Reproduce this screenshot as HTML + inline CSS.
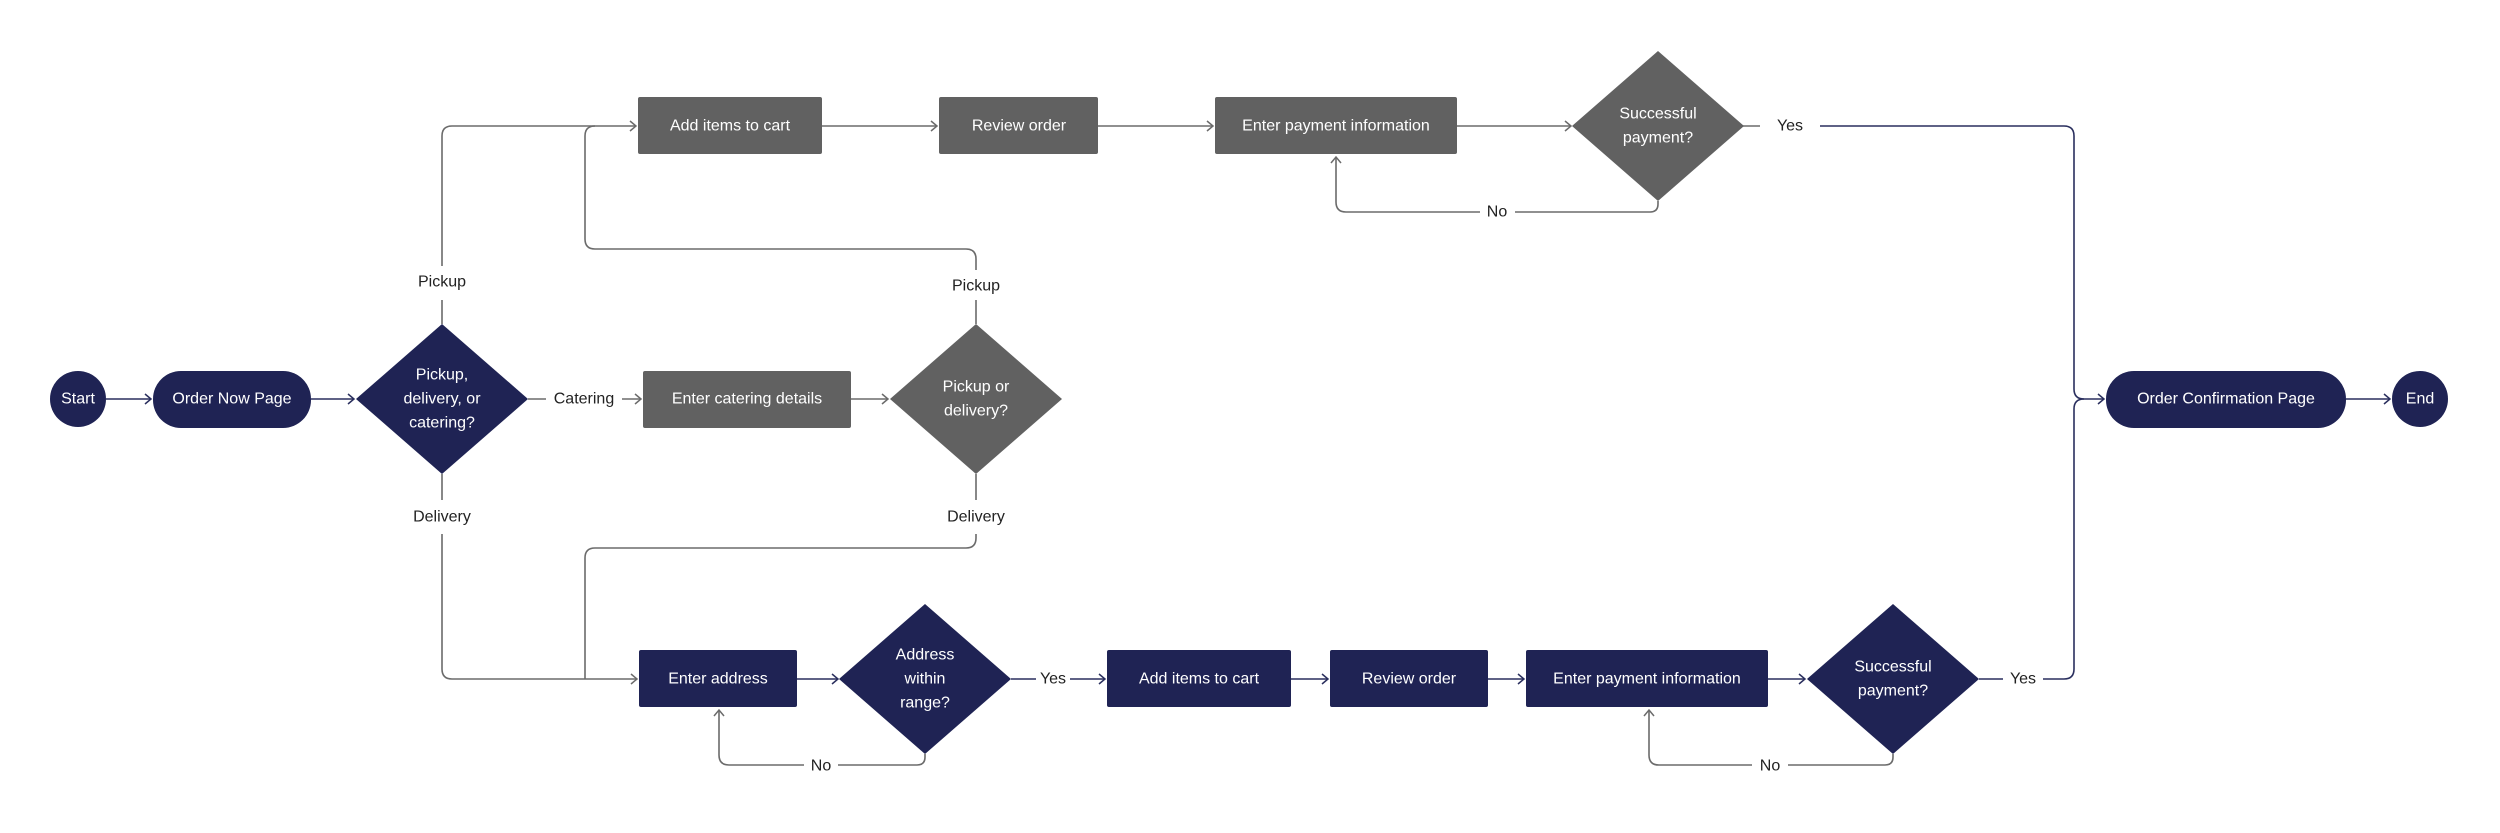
<!DOCTYPE html>
<html><head><meta charset="utf-8"><style>
html,body{margin:0;padding:0;background:#fff;}
svg{display:block;}
text{font-family:"Liberation Sans",sans-serif;font-size:16px;}
.w{fill:#fff;text-anchor:middle;dominant-baseline:central;}
.l{fill:#222;text-anchor:middle;dominant-baseline:central;}
.g{fill:none;stroke:#6b6b6b;stroke-width:1.6;}
.n{fill:none;stroke:#2a2f5e;stroke-width:1.6;}
</style></head><body>
<svg width="2500" height="833" viewBox="0 0 2500 833" xmlns="http://www.w3.org/2000/svg">
<defs>
<marker id="ag" markerWidth="12" markerHeight="12" refX="9" refY="6" orient="auto" markerUnits="userSpaceOnUse"><path d="M3,1 L9,6 L3,11" fill="none" stroke="#6b6b6b" stroke-width="1.5"/></marker>
<marker id="an" markerWidth="12" markerHeight="12" refX="9" refY="6" orient="auto" markerUnits="userSpaceOnUse"><path d="M3,1 L9,6 L3,11" fill="none" stroke="#2a2f5e" stroke-width="1.5"/></marker>
</defs>
<!-- connectors -->
<path class="n" d="M106,399 H151" marker-end="url(#an)"/>
<path class="n" d="M311,399 H354" marker-end="url(#an)"/>
<path class="g" d="M528,399 H546"/><path class="g" d="M622,399 H641" marker-end="url(#ag)"/>
<path class="g" d="M851,399 H888" marker-end="url(#ag)"/>
<!-- pickup from d1 -->
<path class="g" d="M442,324 V300"/><path class="g" d="M442,266 V136 Q442,126 452,126 H636" marker-end="url(#ag)"/>
<!-- pickup from d2 -->
<path class="g" d="M976,324 V300"/><path class="g" d="M976,270 V259 Q976,249 966,249 H595 Q585,249 585,239 V136 Q585,126 595,126"/>
<path class="g" d="M822,126 H937" marker-end="url(#ag)"/>
<path class="g" d="M1098,126 H1213" marker-end="url(#ag)"/>
<path class="g" d="M1457,126 H1571" marker-end="url(#ag)"/>
<path class="g" d="M1743,126 H1760"/><path class="n" d="M1820,126 H2064 Q2074,126 2074,136 V389 Q2074,399 2084,399 H2104" marker-end="url(#an)"/>
<path class="g" d="M1658,201 V204 Q1658,212 1650,212 H1515"/><path class="g" d="M1480,212 H1346 Q1336,212 1336,202 V157" marker-end="url(#ag)"/>
<!-- delivery from d1 -->
<path class="g" d="M442,474 V500"/><path class="g" d="M442,534 V669 Q442,679 452,679 H637" marker-end="url(#ag)"/>
<!-- delivery from d2 -->
<path class="g" d="M976,474 V500"/><path class="g" d="M976,534 V538 Q976,548 966,548 H595 Q585,548 585,558 V679"/>
<path class="n" d="M797,679 H838" marker-end="url(#an)"/>
<path class="n" d="M1011,679 H1036"/><path class="n" d="M1070,679 H1105" marker-end="url(#an)"/>
<path class="n" d="M1291,679 H1328" marker-end="url(#an)"/>
<path class="n" d="M1488,679 H1524" marker-end="url(#an)"/>
<path class="n" d="M1768,679 H1805" marker-end="url(#an)"/>
<path class="n" d="M1979,679 H2003"/><path class="n" d="M2043,679 H2064 Q2074,679 2074,669 V409 Q2074,399 2084,399"/>
<path class="g" d="M925,754 V757 Q925,765 917,765 H838"/><path class="g" d="M804,765 H729 Q719,765 719,755 V710" marker-end="url(#ag)"/>
<path class="g" d="M1893,754 V757 Q1893,765 1885,765 H1788"/><path class="g" d="M1752,765 H1659 Q1649,765 1649,755 V710" marker-end="url(#ag)"/>
<path class="n" d="M2346,399 H2390" marker-end="url(#an)"/>
<!-- shapes -->
<circle cx="78" cy="399" r="28" fill="#1f2354"/><text class="w" x="78" y="399">Start</text>
<rect x="153" y="371" width="158" height="57" rx="28" fill="#1f2354"/><text class="w" x="232" y="399">Order Now Page</text>
<polygon points="442,324 528,399 442,474 356,399" fill="#1f2354"/>
<text class="w" x="442" y="375">Pickup,</text><text class="w" x="442" y="399">delivery, or</text><text class="w" x="442" y="423">catering?</text>
<rect x="643" y="371" width="208" height="57" rx="2" fill="#616161"/><text class="w" x="747" y="399">Enter catering details</text>
<polygon points="976,324 1062,399 976,474 890,399" fill="#616161"/>
<text class="w" x="976" y="387">Pickup or</text><text class="w" x="976" y="411">delivery?</text>
<rect x="638" y="97" width="184" height="57" rx="2" fill="#616161"/><text class="w" x="730" y="126">Add items to cart</text>
<rect x="939" y="97" width="159" height="57" rx="2" fill="#616161"/><text class="w" x="1019" y="126">Review order</text>
<rect x="1215" y="97" width="242" height="57" rx="2" fill="#616161"/><text class="w" x="1336" y="126">Enter payment information</text>
<polygon points="1658,51 1744,126 1658,201 1572,126" fill="#616161"/>
<text class="w" x="1658" y="114">Successful</text><text class="w" x="1658" y="138">payment?</text>
<rect x="2106" y="371" width="240" height="57" rx="28" fill="#1f2354"/><text class="w" x="2226" y="399">Order Confirmation Page</text>
<circle cx="2420" cy="399" r="28" fill="#1f2354"/><text class="w" x="2420" y="399">End</text>
<rect x="639" y="650" width="158" height="57" rx="2" fill="#1f2354"/><text class="w" x="718" y="679">Enter address</text>
<polygon points="925,604 1011,679 925,754 839,679" fill="#1f2354"/>
<text class="w" x="925" y="655">Address</text><text class="w" x="925" y="679">within</text><text class="w" x="925" y="703">range?</text>
<rect x="1107" y="650" width="184" height="57" rx="2" fill="#1f2354"/><text class="w" x="1199" y="679">Add items to cart</text>
<rect x="1330" y="650" width="158" height="57" rx="2" fill="#1f2354"/><text class="w" x="1409" y="679">Review order</text>
<rect x="1526" y="650" width="242" height="57" rx="2" fill="#1f2354"/><text class="w" x="1647" y="679">Enter payment information</text>
<polygon points="1893,604 1979,679 1893,754 1807,679" fill="#1f2354"/>
<text class="w" x="1893" y="667">Successful</text><text class="w" x="1893" y="691">payment?</text>
<!-- labels -->
<text class="l" x="584" y="399">Catering</text>
<text class="l" x="442" y="282">Pickup</text>
<text class="l" x="976" y="286">Pickup</text>
<text class="l" x="442" y="517">Delivery</text>
<text class="l" x="976" y="517">Delivery</text>
<text class="l" x="1790" y="126">Yes</text>
<text class="l" x="1497" y="212">No</text>
<text class="l" x="1053" y="679">Yes</text>
<text class="l" x="2023" y="679">Yes</text>
<text class="l" x="821" y="766">No</text>
<text class="l" x="1770" y="766">No</text>
</svg>
</body></html>
